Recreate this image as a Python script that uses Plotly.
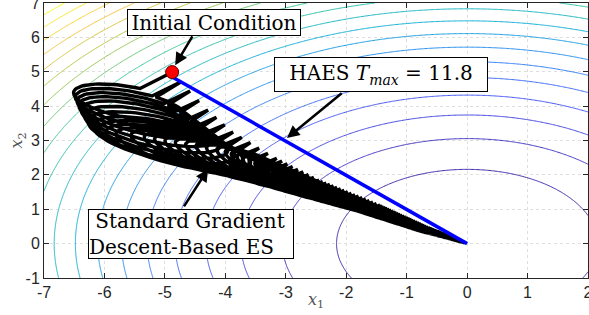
import numpy as np
import plotly.graph_objects as go

# ---------------- data ----------------
x_range = [-7, 2]
y_range = [-1, 7]
x_ticks = [-7, -6, -5, -4, -3, -2, -1, 0, 1, 2]
y_ticks = [-1, 0, 1, 2, 3, 4, 5, 6, 7]

# cost J = x1^2 + x2^2 drawn with 20 contour levels over [0, Jmax]
J_max = 98.0
n_levels = 20

initial_condition = [-4.88, 4.99]

# HAES trajectory (straight to optimum)
haes_x = [-4.93, 0.0]
haes_y = [4.90, 0.0]

# standard gradient ES: per-cycle loop keypoints
loop_k = [0, 4, 7, 10, 12, 20, 37, 64, 90, 120, 150]
left_x = [-6.519, -6.403, -6.237, -5.907, -5.410, -4.037, -2.383, -1.018, -0.446, -0.171, -0.0654]
left_y = [4.439, 3.974, 3.479, 3.218, 3.130, 2.723, 1.507, 0.611, 0.268, 0.1025, 0.0393]
tip_x = [-4.880, -4.285, -3.871, -3.441, -3.150, -2.449, -1.440, -0.612, -0.268, -0.103, -0.039]
tip_y = [4.986, 3.886, 3.246, 2.782, 2.478, 1.850, 1.123, 0.454, 0.199, 0.076, 0.029]
loop_b_px = [14, 18, 19, 16, 14, 11, 6, 2.8, 1.1, 0.42, 0.16]        # loop half width
spike_phase = [1.3, 1.0, 0.8, 0.7, 0.65, 0.6, 0.6, 0.6, 0.6, 0.6, 0.6]
spike_len_px = [36, 22, 18, 16, 15, 12, 7, 3.3, 1.45, 0.55, 0.21]
spike_dir = [27, 24, 22, 22, 22, 22, 22, 22, 22, 22, 22]             # deg, up-right

# parula colormap
parula = [
    [0 / 7, "rgb(62,38,168)"],
    [1 / 7, "rgb(72,82,244)"],
    [2 / 7, "rgb(46,135,247)"],
    [3 / 7, "rgb(18,177,214)"],
    [4 / 7, "rgb(55,200,151)"],
    [5 / 7, "rgb(171,199,57)"],
    [6 / 7, "rgb(254,195,56)"],
    [7 / 7, "rgb(249,251,21)"],
]

# ---------------- build ----------------
SX = 544 / 9.0    # px per unit (x)
SY = 275 / 8.0    # px per unit (y)

gx = np.linspace(x_range[0], x_range[1], 451)
gy = np.linspace(y_range[0], y_range[1], 401)
Z = gx[None, :] ** 2 + gy[:, None] ** 2
step = J_max / (n_levels + 1)


def P(name, k):
    return np.interp(k, loop_k, name)


def loop_geom(k):
    """ellipse (left end, tip) -> centre, half length a, tilt t (pixel frame, y up)."""
    Lx, Ly = P(left_x, k) * SX, P(left_y, k) * SY
    Tx, Ty = P(tip_x, k) * SX, P(tip_y, k) * SY
    b, ths, s = P(loop_b_px, k), P(spike_phase, k), P(spike_len_px, k)
    phi = np.radians(P(spike_dir, k))
    t = np.radians(15.0) * np.ones_like(np.asarray(Lx, dtype=float))
    for _ in range(6):
        e2x, e2y = np.sin(t), np.cos(t)
        Vx = Tx - Lx - s * np.cos(phi) - b * np.sin(ths) * e2x
        Vy = Ty - Ly - s * np.sin(phi) - b * np.sin(ths) * e2y
        t = np.arctan2(-Vy, Vx)
    a = np.hypot(Vx, Vy) / (1 + np.cos(ths))
    cx = Lx + a * np.cos(t)
    cy = Ly - a * np.sin(t)
    return cx, cy, a, b, t


def ellipse_pt(k, th):
    cx, cy, a, b, t = loop_geom(k)
    X = cx + a * np.cos(th) * np.cos(t) + b * np.sin(th) * np.sin(t)
    Y = cy - a * np.cos(th) * np.sin(t) + b * np.sin(th) * np.cos(t)
    return X, Y


K = loop_k[-1]
ppl = 80
xs, ys = [], []
for k in range(K):
    ths = P(spike_phase, k)
    th0 = 2 * np.pi * k + ths
    th1 = 2 * np.pi * (k + 1) + P(spike_phase, k + 1)
    xs.append([P(tip_x, k) * SX])
    ys.append([P(tip_y, k) * SY])
    th = np.linspace(th0, th1, ppl, endpoint=False)
    kk = k + (th - th0) / (th1 - th0)
    ex, ey = ellipse_pt(kk, th)
    xs.append(ex)
    ys.append(ey)
ES_x = np.concatenate(xs) / SX
ES_y = np.concatenate(ys) / SY

fig = go.Figure()
fig.add_trace(go.Contour(
    x=gx, y=gy, z=Z, zmin=0, zmax=J_max, autocontour=False,
    contours=dict(start=step, end=n_levels * step + 1e-6, size=step, coloring="lines"),
    line=dict(width=1), colorscale=parula, showscale=False, hoverinfo="skip"))
fig.add_trace(go.Scatter(x=ES_x, y=ES_y, mode="lines",
                         line=dict(color="black", width=3.4), hoverinfo="skip"))
fig.add_trace(go.Scatter(x=haes_x, y=haes_y, mode="lines",
                         line=dict(color="#0000ff", width=3.5)))
fig.add_trace(go.Scatter(x=[initial_condition[0]], y=[initial_condition[1]], mode="markers",
                         marker=dict(size=13, color="#ff0000", line=dict(color="#600000", width=1))))

serif = "DejaVu Serif"
boxes = [
    dict(x=-4.194, y=6.43, text="Initial Condition", width=172, height=25),
    dict(x=-1.423, y=4.92, text="HAES <i>T</i><sub><i>max</i></sub> = 11.8", width=212, height=33),
    dict(x=-4.567, y=0.28, text="&nbsp;Standard Gradient<br>Descent-Based ES", width=204, height=48,
         align="left"),
]
for b in boxes:
    fig.add_annotation(x=b["x"], y=b["y"], xref="x", yref="y", text=b["text"], showarrow=False,
                       width=b["width"], height=b["height"], align=b.get("align", "center"),
                       bgcolor="white", bordercolor="black", borderwidth=1, borderpad=0,
                       font=dict(family=serif, size=20, color="black"))
arrows = [
    ((-4.53, 6.07), (-4.83, 5.19)),
    ((-2.05, 4.41), (-2.98, 3.07)),
    ((-4.70, 1.04), (-4.285, 2.17)),
]
for (tx, ty), (hx, hy) in arrows:
    fig.add_annotation(x=hx, y=hy, ax=tx, ay=ty, xref="x", yref="y", axref="x", ayref="y",
                       text="", showarrow=True, arrowhead=2, arrowsize=1, arrowwidth=2.5,
                       arrowcolor="black", standoff=0, startstandoff=0)

# axis titles
fig.add_annotation(x=0.5, y=-0.0836, xref="paper", yref="paper", text="<i>x</i><sub>1</sub>",
                   xanchor="center", yanchor="middle",
                   showarrow=False, font=dict(family=serif, size=16, color="#555555"))
fig.add_annotation(x=-0.0478, y=0.5, xref="paper", yref="paper", text="<i>x</i><sub>2</sub>",
                   xanchor="center", yanchor="middle",
                   showarrow=False, textangle=-90, font=dict(family=serif, size=16, color="#555555"))

axis_common = dict(showline=True, mirror="ticks", linecolor="#262626", linewidth=1,
                   ticks="inside", ticklen=5, tickcolor="#262626", automargin=False,
                   ticklabeloverflow="allow",
                   showgrid=True, gridcolor="#dedede", griddash="dot", gridwidth=1,
                   zeroline=False,
                   tickfont=dict(family="Liberation Sans", size=16, color="#262626"))
fig.update_xaxes(range=x_range, tickvals=x_ticks, ticktext=[str(t) for t in x_ticks],
                 **axis_common)
fig.update_yaxes(range=y_range, tickvals=y_ticks, ticktext=[str(t) for t in y_ticks],
                 **axis_common)
fig.update_layout(width=589, height=315, margin=dict(l=44, r=1, t=3, b=37),
                  plot_bgcolor="white", paper_bgcolor="white", showlegend=False)
fig.write_html("out.html", config={"displayModeBar": False},
               post_script="document.body.style.margin='0';")
